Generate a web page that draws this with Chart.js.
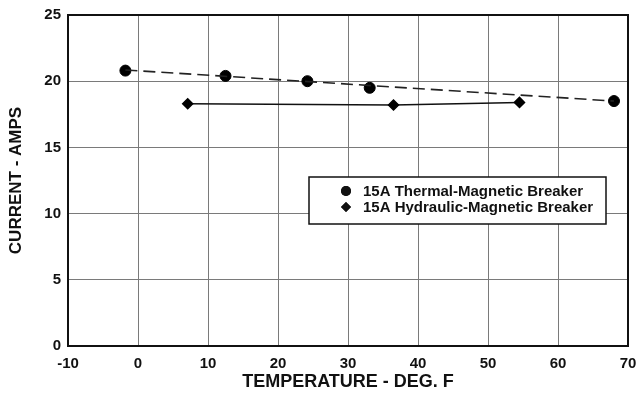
<!DOCTYPE html>
<html>
<head>
<meta charset="utf-8">
<script src="https://cdn.jsdelivr.net/npm/chart.js@4.4.1/dist/chart.umd.min.js"></script>
<style>
  html, body { margin: 0; padding: 0; background: #fff; }
  #wrap { width: 636px; height: 393px; }
</style>
</head>
<body>
<div id="wrap"><canvas id="chart"></canvas></div>
<script>
// Trip current vs ambient temperature for two 15A breakers
const thermalTemp = [-1.8, 12.5, 24.2, 33.1, 68.0];
const thermalAmps = [20.8, 20.4, 20.0, 19.5, 18.5];

const hydraulicTemp = [7.1, 36.5, 54.5];
const hydraulicAmps = [18.3, 18.2, 18.4];

// dashed fit line for the thermal-magnetic readings
const trendTemp = [-1.8, 68.0];
const trendAmps = [20.85, 18.5];

const xTicks = [-10, 0, 10, 20, 30, 40, 50, 60, 70];
const yTicks = [0, 5, 10, 15, 20, 25];

const legendLabels = ['15A Thermal-Magnetic Breaker', '15A Hydraulic-Magnetic Breaker'];

function toPoints(xs, ys) {
    return xs.map((x, i) => ({ x: x, y: ys[i] }));
}

const font = "'Liberation Sans', Arial, sans-serif";

// Black frame round the plot area plus a boxed legend inside it
const framePlugin = {
    id: 'frame',
    afterDatasetsDraw(chart) {
        const ctx = chart.ctx;
        const a = chart.chartArea;
        ctx.save();
        ctx.strokeStyle = '#111';
        ctx.lineWidth = 2;
        ctx.strokeRect(a.left, a.top, a.right - a.left, a.bottom - a.top);

        // legend box
        const bx = 309, by = 177, bw = 297, bh = 47;
        ctx.fillStyle = '#fff';
        ctx.fillRect(bx, by, bw, bh);
        ctx.lineWidth = 1.5;
        ctx.strokeRect(bx, by, bw, bh);

        ctx.fillStyle = '#111';
        ctx.font = 'bold 15px ' + font;
        ctx.textBaseline = 'middle';
        ctx.textAlign = 'left';
        const rows = [191, 207];
        Chart.helpers.drawPoint(ctx, { pointStyle: 'circle', radius: 5, rotation: 0 }, 346, rows[0]);
        ctx.fill();
        Chart.helpers.drawPoint(ctx, { pointStyle: 'rectRot', radius: 5, rotation: 0 }, 346, rows[1]);
        ctx.fill();
        legendLabels.forEach((t, i) => ctx.fillText(t, 363, rows[i] + 1));
        ctx.restore();
    }
};

new Chart(document.getElementById('chart'), {
    type: 'scatter',
    data: {
        datasets: [
            {
                label: 'trend',
                data: toPoints(trendTemp, trendAmps),
                showLine: true,
                borderColor: '#222',
                borderWidth: 1.6,
                borderDash: [12, 6],
                pointRadius: 0
            },
            {
                label: legendLabels[0],
                data: toPoints(thermalTemp, thermalAmps),
                showLine: false,
                pointStyle: 'circle',
                pointRadius: 5.5,
                backgroundColor: '#000',
                borderColor: '#000'
            },
            {
                label: legendLabels[1],
                data: toPoints(hydraulicTemp, hydraulicAmps),
                showLine: true,
                borderColor: '#111',
                borderWidth: 1.5,
                pointStyle: 'rectRot',
                pointRadius: 5,
                backgroundColor: '#000',
                pointBorderColor: '#000'
            }
        ]
    },
    options: {
        responsive: true,
        maintainAspectRatio: false,
        animation: false,
        layout: { padding: { top: 15, right: 8, left: 0, bottom: 0 } },
        plugins: {
            legend: { display: false },
            tooltip: { enabled: false }
        },
        scales: {
            x: {
                type: 'linear',
                min: -10,
                max: 70,
                afterBuildTicks: (axis) => { axis.ticks = xTicks.map(v => ({ value: v })); },
                afterFit: (axis) => {
                    axis.height = 47;
                    axis.paddingLeft = 0;
                    axis.paddingRight = 0;
                },
                ticks: {
                    color: '#111',
                    font: { family: font, size: 15, weight: 'bold' },
                    padding: 9,
                    maxRotation: 0
                },
                grid: { color: '#7a7a7a', lineWidth: 1, drawTicks: false },
                border: { display: false },
                title: {
                    display: true,
                    text: 'TEMPERATURE - DEG. F',
                    color: '#111',
                    font: { family: font, size: 18, weight: 'bold' },
                    padding: { top: 0, bottom: 0 }
                }
            },
            y: {
                type: 'linear',
                min: 0,
                max: 25,
                afterBuildTicks: (axis) => { axis.ticks = yTicks.map(v => ({ value: v })); },
                afterFit: (axis) => {
                    axis.width = 68;
                    axis.paddingTop = 0;
                    axis.paddingBottom = 0;
                },
                ticks: {
                    color: '#111',
                    font: { family: font, size: 15, weight: 'bold' },
                    padding: 7
                },
                grid: { color: '#7a7a7a', lineWidth: 1, drawTicks: false },
                border: { display: false },
                title: {
                    display: true,
                    text: 'CURRENT - AMPS',
                    color: '#111',
                    font: { family: font, size: 17, weight: 'bold' },
                    padding: { top: 6, bottom: 0 }
                }
            }
        }
    },
    plugins: [framePlugin]
});
</script>
</body>
</html>
